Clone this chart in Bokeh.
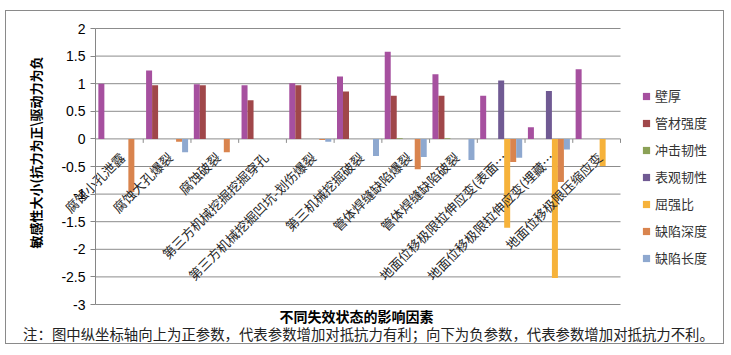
from math import pi, nan
from bokeh.plotting import figure
from bokeh.models import (ColumnDataSource, Range1d, FixedTicker, Label, Legend,
                          LegendItem, CustomJSTickFormatter, LinearAxis)
from bokeh.transform import dodge
from bokeh.core.properties import value
from bokeh.embed import file_html
from bokeh.resources import INLINE

# ---------------- data ----------------
categories = [
    "腐蚀小孔泄露",
    "腐蚀大孔爆裂",
    "腐蚀破裂",
    "第三方机械挖掘挖掘穿孔",
    "第三方机械挖掘凹坑-划伤爆裂",
    "第三机械挖掘破裂",
    "管体焊缝缺陷爆裂",
    "管体焊缝缺陷破裂",
    "地面位移极限拉伸应变(表面…",
    "地面位移极限拉伸应变(埋藏…",
    "地面位移极限压缩应变",
]
series_names = ["壁厚", "管材强度", "冲击韧性", "表观韧性", "屈强比", "缺陷深度", "缺陷长度"]

wall_thickness = [1.00, 1.24, 0.99, 0.97, 1.01, 1.13, 1.58, 1.17, 0.78, 0.21, 1.26]
pipe_strength = [0.00, 0.97, 0.97, 0.70, 0.97, 0.86, 0.78, 0.78, 0.00, 0.00, 0.00]
impact_toughness = [0.00, 0.00, 0.00, 0.00, 0.00, 0.00, 0.01, 0.01, 0.00, 0.00, 0.00]
apparent_toughness = [0.00, 0.00, 0.00, 0.00, 0.00, 0.00, 0.00, 0.00, 1.06, 0.87, 0.00]
yield_ratio = [0.00, 0.00, 0.00, 0.00, 0.00, 0.00, 0.00, 0.00, -1.61, -2.52, -0.49]
defect_depth = [-0.96, -0.05, -0.24, 0.00, -0.02, 0.00, -0.55, 0.00, -0.42, -0.78, 0.00]
defect_length = [0.00, -0.24, 0.00, 0.00, -0.05, -0.31, -0.33, -0.38, -0.34, -0.19, 0.00]

y_ticks = [-3, -2.5, -2, -1.5, -1, -0.5, 0, 0.5, 1, 1.5, 2]

colors = ["#A6509F", "#A0474A", "#8BA156", "#705A93", "#F6B23A", "#D9844E", "#8EA8CF"]

y_title = "敏感性大小(抗力为正\\驱动力为负"
x_title = "不同失效状态的影响因素"
note = "注：图中纵坐标轴向上为正参数，代表参数增加对抵抗力有利；向下为负参数，代表参数增加对抵抗力不利。"

CJK = "Noto Sans CJK SC"

# ---------------- layout (page pixels) ----------------
ORG_X, ORG_Y = 6, 11            # canvas origin on the page (margin + border)
FIG_W, FIG_H = 719, 334
PLOT_L, PLOT_R, PLOT_T, PLOT_B = 95, 620, 28, 304
n = len(categories)
y_lo, y_hi = y_ticks[0], y_ticks[-1]
ppx = (PLOT_R - PLOT_L) / n
ppy = (PLOT_B - PLOT_T) / (y_hi - y_lo)

x_start = -(PLOT_L - ORG_X) / ppx
x_end = (ORG_X + FIG_W - PLOT_L) / ppx
y_end = y_hi + (PLOT_T - ORG_Y) / ppy
y_start = y_lo - (ORG_Y + FIG_H - PLOT_B) / ppy


def sx(px):
    return px - ORG_X


def sy(py):
    return FIG_H - (py - ORG_Y)


p = figure(width=FIG_W, height=FIG_H, output_backend="svg", toolbar_location=None,
           x_range=Range1d(x_start, x_end), y_range=Range1d(y_start, y_end),
           min_border=0, x_axis_location=None, y_axis_location=None)
p.xgrid.visible = False
p.ygrid.visible = False
p.outline_line_color = None
p.background_fill_color = "white"
p.border_fill_color = "white"
p.styles = {"border": "1px solid #8a8a8a", "margin": "10px 5px 0px 5px"}

# y axis, fixed at x = 0
yax = LinearAxis(fixed_location=0, bounds=(y_lo, y_hi))
yax.ticker = FixedTicker(ticks=y_ticks)
yax.formatter = CustomJSTickFormatter(code="return tick.toString()")
yax.axis_line_color = "#868686"
yax.major_tick_line_color = "#868686"
yax.minor_tick_line_color = None
yax.major_tick_in = 0
yax.major_tick_out = 5
yax.major_label_standoff = 5
yax.major_label_text_font = "Liberation Sans"
yax.major_label_text_font_size = "14px"
yax.major_label_text_color = "black"
p.add_layout(yax, "left")

# gridlines across the data area only
p.segment(x0=[0] * len(y_ticks), x1=[n] * len(y_ticks), y0=y_ticks, y1=y_ticks,
          line_color="#8c8c8c", line_width=1, level="underlay")

# category boundary ticks on the y=0 axis
tick_len = 4 / ppy
bounds = list(range(n + 1))
p.segment(x0=bounds, x1=bounds, y0=[0] * len(bounds), y1=[-tick_len] * len(bounds),
          line_color="#8c8c8c", line_width=1)

# bars
src = ColumnDataSource(dict(
    x=[i + 0.5 for i in range(n)],
    s0=wall_thickness, s1=pipe_strength, s2=impact_toughness, s3=apparent_toughness,
    s4=yield_ratio, s5=defect_depth, s6=defect_length,
))
bar_w = 6 / ppx
for j in range(len(series_names)):
    off = (j - 3) * bar_w
    p.vbar(x=dodge("x", off, range=p.x_range), top="s%d" % j, bottom=0, width=bar_w,
           source=src, fill_color=colors[j], line_color=None)

# category labels, rotated, ending just below the axis at each category centre
lab_src = ColumnDataSource(dict(
    x=[i + 0.5 + 3 / ppx for i in range(n)],
    y=[-16 / ppy] * n,
    text=categories,
))
p.text(x="x", y="y", text="text", source=lab_src, angle=pi / 4, text_align="right",
       text_baseline="middle", text_font=value(CJK),
       text_font_size="13px", text_color="#262626")

# legend (proxy markers)
items = []
for name, c in zip(series_names, colors):
    r = p.scatter(x=[nan], y=[nan], marker="square", size=7, fill_color=c, line_color=None)
    items.append(LegendItem(label=name, renderers=[r]))
legend = Legend(items=items, location=(sx(637), sy(267)), orientation="vertical",
                glyph_width=18, glyph_height=18, label_standoff=0, spacing=8,
                padding=0, margin=0, border_line_color=None, background_fill_alpha=0,
                inactive_fill_alpha=0,
                label_text_font=CJK, label_text_font_size="13px", label_height=18,
                label_text_color="#333333")
p.add_layout(legend)

# titles and note
p.add_layout(Label(x=sx(35), y=sy(152), x_units="screen", y_units="screen", text=y_title,
                   angle=pi / 2, text_align="center", text_baseline="middle",
                   text_font=CJK, text_font_size="13px", text_font_style="bold",
                   text_color="black"))
p.add_layout(Label(x=sx(356), y=sy(315), x_units="screen", y_units="screen", text=x_title,
                   text_align="center", text_baseline="middle", text_font=CJK,
                   text_font_size="14px", text_font_style="bold", text_color="black"))
p.add_layout(Label(x=sx(368), y=sy(333), x_units="screen", y_units="screen", text=note,
                   text_align="center", text_baseline="middle", text_font=CJK,
                   text_font_size="14.4px", text_color="#222222"))

open("out.html", "w").write(file_html(p, INLINE))
